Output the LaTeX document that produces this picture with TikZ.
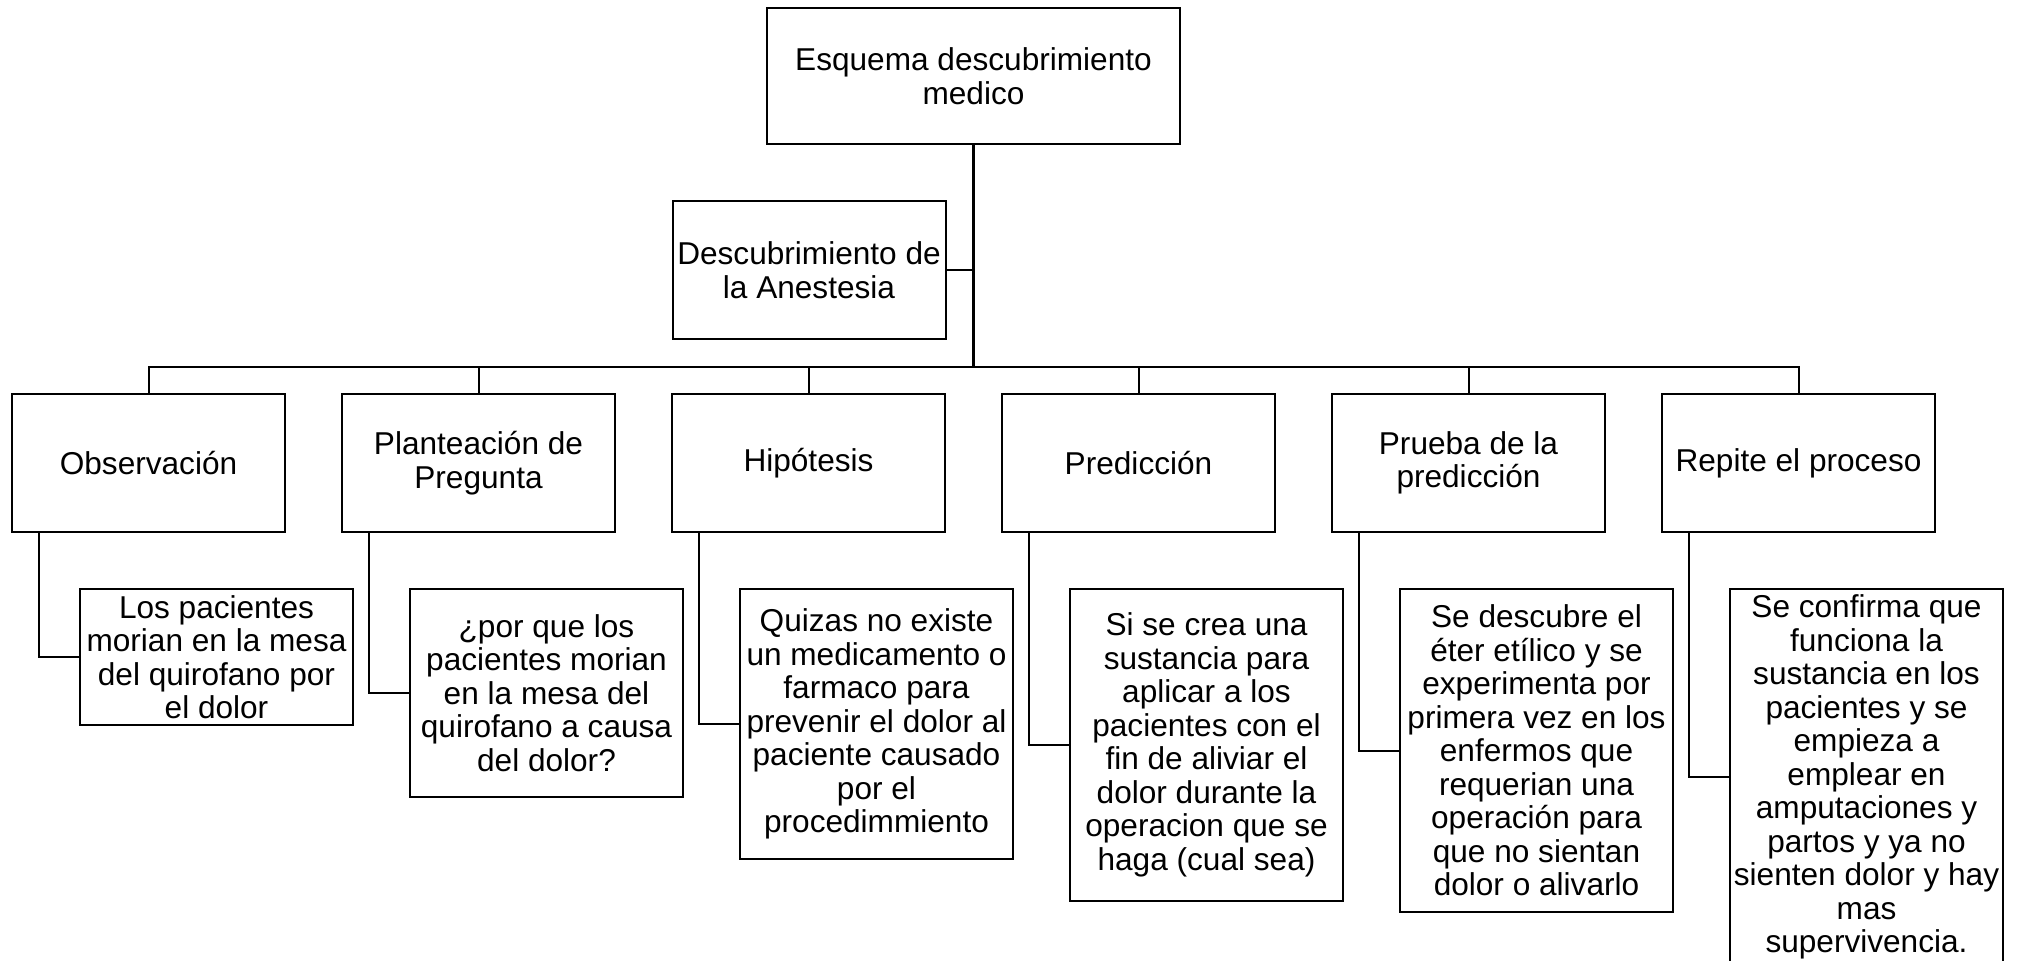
\documentclass[tikz,border=0pt]{standalone}
\usepackage{fontspec}
\setmainfont{Liberation Sans}

\begin{document}
\begin{tikzpicture}[
                x=.5pt,y=-.5pt,
                line width=1pt,
                cajabox/.style={draw,align=center,inner sep=1pt,minimum width=136.5pt,text=black,
                                font=\fontsize{15.8pt}{16.75pt}\selectfont}] %

\useasboundingbox (0,0) rectangle (2022,961);

                    % raiz
                    \node[cajabox,minimum width=206.5pt,minimum height=68pt] (ESQ) at (973.5,76) {Esquema descubrimiento\\medico};
                    \coordinate (HUB) at (973.5,367);
                    \draw[line width=1.5pt] (ESQ.south) -- (HUB);

                    \node[cajabox,minimum height=69pt] (ANEST) at (809,270) {Descubrimiento de\\la Anestesia};
                    \draw (ANEST.east) -- (ANEST.east -| HUB);


                    % 1
                    \node[cajabox,minimum height=69pt] (OBS) at (148.5,463) {Observación};
                    \node[cajabox,minimum height=68pt] (OBSD) at (216.5,657) {Los pacientes\\morian en la mesa\\del quirofano por\\el dolor};
                    \draw (HUB) -| (OBS.north);
                    \draw ([xshift=-54.75pt]OBS.south) |- (OBSD.west);

                    % 2
                    \node[cajabox,minimum height=69pt] (PREG) at (478.5,463) {Planteación de\\Pregunta};
                    \node[cajabox,minimum height=104pt] (PREGD) at (546.5,693) {¿por que los\\pacientes morian\\en la mesa del\\quirofano a causa\\del dolor?};
                    \draw (HUB) -| (PREG.north);
                    \draw ([xshift=-54.75pt]PREG.south) |- (PREGD.west);

                    % 3
                    \node[cajabox,minimum height=69pt] (HIP) at (808.5,463) {Hipótesis};
                    \node[cajabox,minimum height=135pt] (HIPD) at (876.5,724) {Quizas no existe\\un medicamento o\\farmaco para\\prevenir el dolor al\\paciente causado\\por el\\procedimmiento};
                    \draw (HUB) -| (HIP.north);
                    \draw ([xshift=-54.75pt]HIP.south) |- (HIPD.west);

                    % 4
                    \node[cajabox,minimum height=69pt] (PRED) at (1138.5,463) {Predicción};
                    \node[cajabox,minimum height=156pt] (PREDD) at (1206.5,745) {Si se crea una\\sustancia para\\aplicar a los\\pacientes con el\\fin de aliviar el\\dolor durante la\\operacion que se\\haga (cual sea)};
                    \draw (HUB) -| (PRED.north);
                    \draw ([xshift=-54.75pt]PRED.south) |- (PREDD.west);

                    % 5
                    \node[cajabox,minimum height=69pt] (PRUEBA) at (1468.5,463) {Prueba de la\\predicción};
                    \node[cajabox,minimum height=161.5pt] (PRUEBAD) at (1536.5,750.5) {Se descubre el\\éter etílico y se\\experimenta por\\primera vez en los\\enfermos que\\requerian una\\operación para\\que no sientan\\dolor o alivarlo};
                    \draw (HUB) -| (PRUEBA.north);
                    \draw ([xshift=-54.75pt]PRUEBA.south) |- (PRUEBAD.west);

                    % 6
                    \node[cajabox,minimum height=69pt] (REP) at (1798.5,463) {Repite el proceso};
                    \node[cajabox,minimum height=188pt] (REPD) at (1866.5,777) {Se confirma que\\funciona la\\sustancia en los\\pacientes y se\\empieza a\\emplear en\\amputaciones y\\partos y ya no\\sienten dolor y hay\\mas\\supervivencia.};
                    \draw (HUB) -| (REP.north);
                    \draw ([xshift=-54.75pt]REP.south) |- (REPD.west);


%%%%%%%%%%%%%%%%%%%%%%%%%%%%%%%%%%%%%%%%%%%%%%%%%%%%%%%%%%%%%%%%%%%%%%%%%%%%%%%%%%%%


\end{tikzpicture}
\end{document}
